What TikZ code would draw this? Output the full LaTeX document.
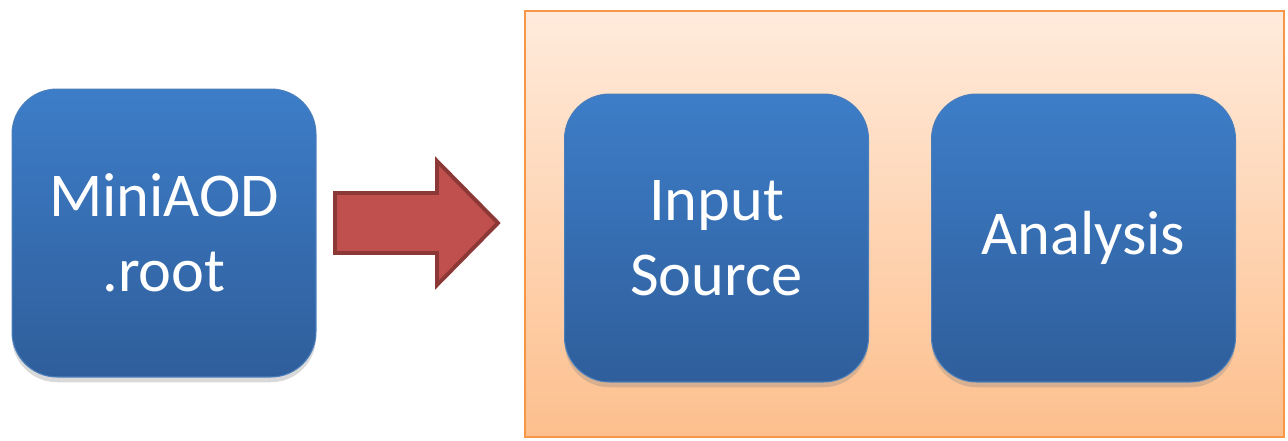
\documentclass[tikz,border=0pt]{standalone}
\usepackage{fontspec}
\setmainfont{Carlito}
\usepackage{xcolor}
\usepackage{tikz}
\usetikzlibrary{shadows}

\definecolor{boxtop}{HTML}{3D7DC8}
\definecolor{boxbottom}{HTML}{2F5E9B}
\definecolor{boxedge}{HTML}{4A7EBB}
\definecolor{frametop}{HTML}{FFEBDC}
\definecolor{framebottom}{HTML}{FDBF8D}
\definecolor{frameedge}{HTML}{F79646}
\definecolor{arrowfill}{HTML}{C0504D}
\definecolor{arrowedge}{HTML}{8C3836}

\begin{document}
\begin{tikzpicture}[
    x=0.02cm, y=-0.02cm,
    block/.style={rectangle, draw=boxedge, line width=0.6pt, top color=boxtop, bottom color=boxbottom, rounded corners=0.9cm, minimum width=6.08cm, minimum height=5.76cm, text=white, align=center, font=\fontsize{35.5}{43}\selectfont, drop shadow={opacity=0.3, shadow xshift=0pt, shadow yshift=-3pt}},
    frame/.style={rectangle, draw=frameedge, line width=1.2pt, top color=frametop, bottom color=framebottom, minimum width=15.18cm, minimum height=8.52cm},
    blockarrow/.style={draw=arrowedge, fill=arrowfill, line width=2.2pt, line join=miter}
  ]
    \useasboundingbox (0,0) rectangle (1288,440);

    % Framework
    \node[frame] (framework) at (904.5,224) {};

    % Boxes
    \node[block] (miniaod) at (164,233) {MiniAOD\\.root};
    \node[block] (input-source) at (716.5,238) {Input\\Source};
    \node[block] (analysis) at (1083.5,238) {Analysis};

    % Arrow
    \draw[blockarrow] (335,193) -- (437,193) -- (437,161) -- (498,223) -- (437,285) -- (437,253) -- (335,253) -- cycle;

  \end{tikzpicture}
\end{document}
